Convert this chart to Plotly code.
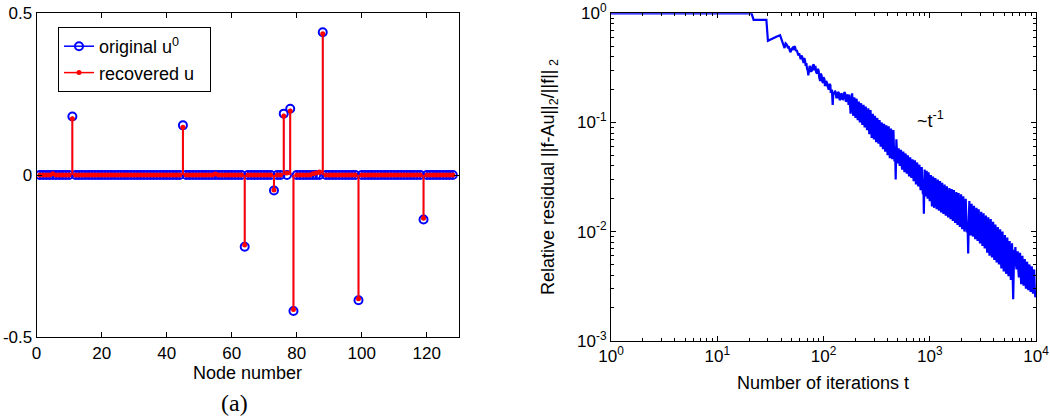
import plotly.graph_objects as go

# ---------------- data: panel (a) ----------------
node_count = 128
spike_nodes = [11, 45, 64, 73, 76, 78, 79, 88, 99, 119]
original_spikes = [0.180, 0.153, -0.221, -0.048, 0.189, 0.204, -0.419, 0.440, -0.386, -0.137]
recovered_spikes = [0.173, 0.147, -0.216, -0.046, 0.182, 0.197, -0.414, 0.435, -0.381, -0.133]
small_nodes = [5, 55, 77, 85, 86, 87]
small_values = [0.004, 0.003, 0.006, 0.004, 0.006, 0.009]

# ---------------- data: residual curve ----------------
iterations = [
    1, 21, 22, 29, 30, 33, 36, 39, 40, 41, 42, 43, 44, 45, 46, 47, 48, 49, 50,
    51, 52, 53, 54, 55, 56, 57, 58, 59, 60, 61, 62, 63, 64, 65, 66, 67, 68,
    69, 70, 71, 72, 73, 74, 75, 76, 77, 78, 79, 81, 82, 84, 85, 87, 88, 90,
    91, 93, 94, 96, 97, 99, 100, 102, 103, 105, 106, 108, 110, 112, 114, 116,
    117, 119, 120, 122, 124, 126, 128, 130, 132, 135, 137, 140, 142, 145, 147,
    150, 152, 155, 157, 160, 162, 165, 167, 170, 172, 175, 178, 180, 183, 186,
    188, 190, 193, 195, 198, 200, 203, 205, 208, 210, 213, 215, 218, 220, 223,
    226, 229, 232, 235, 238, 241, 244, 247, 250, 254, 257, 261, 264, 267, 270,
    274, 277, 281, 284, 288, 291, 295, 298, 302, 305, 309, 313, 317, 321, 325,
    329, 333, 337, 341, 345, 350, 354, 358, 363, 368, 372, 377, 381, 386, 391,
    396, 401, 406, 411, 416, 421, 427, 432, 438, 443, 449, 455, 461, 466, 472,
    478, 485, 491, 497, 503, 510, 516, 523, 530, 536, 543, 550, 557, 564, 571,
    578, 585, 593, 600, 608, 615, 623, 631, 639, 647, 655, 663, 672, 680, 689,
    697, 706, 715, 724, 733, 742, 751, 761, 770, 780, 790, 800, 810, 820, 830,
    841, 851, 862, 871, 880, 888, 895, 905, 915, 925, 935, 945, 955, 965, 975,
    987, 1000, 1012, 1025, 1037, 1050, 1062, 1075, 1088, 1100, 1115, 1130, 1145,
    1160, 1175, 1190, 1205, 1220, 1235, 1250, 1265, 1280, 1295, 1310, 1327, 1345,
    1362, 1380, 1397, 1415, 1432, 1450, 1470, 1490, 1510, 1530, 1550, 1570, 1590,
    1610, 1630, 1650, 1670, 1690, 1712, 1735, 1757, 1780, 1802, 1825, 1847, 1870,
    1895, 1920, 1945, 1970, 1995, 2020, 2045, 2070, 2095, 2120, 2150, 2180, 2210,
    2240, 2270, 2300, 2330, 2360, 2390, 2420, 2450, 2480, 2512, 2545, 2577, 2610,
    2645, 2680, 2715, 2750, 2785, 2820, 2855, 2890, 2930, 2970, 3010, 3050, 3090,
    3130, 3170, 3210, 3250, 3290, 3335, 3380, 3425, 3470, 3515, 3560, 3605, 3650,
    3700, 3750, 3800, 3850, 3900, 3950, 4000, 4050, 4100, 4150, 4205, 4260, 4315,
    4370, 4425, 4480, 4540, 4600, 4660, 4720, 4780, 4840, 4905, 4970, 5035, 5100,
    5165, 5230, 5300, 5370, 5440, 5510, 5580, 5650, 5725, 5800, 5875, 5950, 6025,
    6100, 6175, 6250, 6325, 6400, 6480, 6560, 6645, 6730, 6815, 6900, 6990, 7080,
    7170, 7260, 7355, 7450, 7545, 7640, 7740, 7840, 7940, 8040, 8145, 8250, 8355,
    8460, 8570, 8680, 8790, 8900, 9015, 9130, 9250, 9370, 9490, 9610, 9730, 9850,
    10000,
]
residual = [
    1.0, 1.0, 0.87, 0.87, 0.56, 0.59, 0.61, 0.63, 0.58, 0.55, 0.50, 0.48, 0.53, 0.52, 0.49, 0.50, 0.46, 0.44, 0.47,
    0.48, 0.46, 0.50, 0.49, 0.45, 0.46, 0.42, 0.41, 0.43, 0.39, 0.38, 0.41, 0.40, 0.37, 0.35, 0.39, 0.37, 0.33,
    0.35, 0.31, 0.30, 0.27, 0.31, 0.33, 0.32, 0.29, 0.30, 0.30, 0.33, 0.34, 0.30, 0.33, 0.29, 0.28, 0.31, 0.30,
    0.26, 0.24, 0.28, 0.27, 0.24, 0.23, 0.26, 0.25, 0.22, 0.22, 0.24, 0.23, 0.21, 0.20, 0.225, 0.22,
    0.19, 0.19, 0.20, 0.145, 0.19, 0.18, 0.195, 0.19, 0.17, 0.17, 0.19, 0.185, 0.16, 0.165, 0.185,
    0.18, 0.16, 0.17, 0.19, 0.185, 0.155, 0.16, 0.18, 0.175, 0.145, 0.18, 0.14, 0.12, 0.16, 0.185,
    0.15, 0.115, 0.14, 0.17, 0.13, 0.11, 0.15, 0.165, 0.12, 0.105, 0.14, 0.155, 0.115, 0.10, 0.13,
    0.15, 0.11, 0.095, 0.125, 0.145, 0.105, 0.09, 0.12, 0.14, 0.10, 0.085, 0.11, 0.135, 0.095, 0.078,
    0.105, 0.13, 0.09, 0.072, 0.10, 0.12, 0.085, 0.07, 0.095, 0.115, 0.08, 0.066, 0.09, 0.11, 0.078,
    0.064, 0.085, 0.105, 0.072, 0.06, 0.082, 0.10, 0.068, 0.057, 0.08, 0.097, 0.066, 0.054, 0.075, 0.094,
    0.062, 0.05, 0.072, 0.092, 0.06, 0.047, 0.068, 0.088, 0.058, 0.046, 0.065, 0.085, 0.055, 0.044, 0.06,
    0.03, 0.07, 0.05, 0.042, 0.052, 0.058, 0.044, 0.04, 0.05, 0.056, 0.042, 0.037, 0.047, 0.054, 0.04,
    0.035, 0.045, 0.052, 0.039, 0.034, 0.043, 0.05, 0.037, 0.032, 0.041, 0.048, 0.035, 0.031, 0.039, 0.046,
    0.034, 0.029, 0.038, 0.045, 0.032, 0.027, 0.036, 0.043, 0.03, 0.026, 0.034, 0.041, 0.029, 0.024, 0.032,
    0.039, 0.027, 0.022, 0.03, 0.0146, 0.025, 0.037, 0.026, 0.021, 0.028, 0.036, 0.024, 0.02, 0.027, 0.035,
    0.024, 0.019, 0.026, 0.033, 0.022, 0.017, 0.025, 0.032, 0.021, 0.0165, 0.024, 0.031, 0.02,
    0.016, 0.023, 0.03, 0.02, 0.0155, 0.022, 0.029, 0.019, 0.015, 0.021, 0.028, 0.018, 0.0145,
    0.02, 0.027, 0.018, 0.014, 0.019, 0.026, 0.017, 0.0135, 0.018, 0.025, 0.016, 0.013, 0.017,
    0.0245, 0.016, 0.0125, 0.017, 0.024, 0.015, 0.012, 0.016, 0.023, 0.015, 0.0115, 0.015, 0.0225,
    0.014, 0.011, 0.015, 0.022, 0.014, 0.0105, 0.014, 0.021, 0.013, 0.010, 0.013, 0.020, 0.013,
    0.0098, 0.012, 0.0063, 0.013, 0.019, 0.012, 0.0092, 0.012, 0.018, 0.012, 0.009, 0.011, 0.0172,
    0.011, 0.0085, 0.011, 0.0165, 0.0105, 0.0082, 0.0105, 0.016, 0.010, 0.0078, 0.010, 0.0152, 0.0098,
    0.0074, 0.0096, 0.0147, 0.0094, 0.007, 0.009, 0.014, 0.0088, 0.0064, 0.0085, 0.0135, 0.0082, 0.006,
    0.008, 0.013, 0.0078, 0.0058, 0.0076, 0.0123, 0.0074, 0.0055, 0.0072, 0.0116, 0.007, 0.0052, 0.0068,
    0.011, 0.0066, 0.005, 0.0064, 0.0105, 0.0062, 0.0046, 0.006, 0.010, 0.0058, 0.0043, 0.0056, 0.0093,
    0.0055, 0.0041, 0.0053, 0.0088, 0.005, 0.0039, 0.0048, 0.0082, 0.0047, 0.0036, 0.0045, 0.0078, 0.0042,
    0.0024, 0.0045, 0.0068, 0.0058, 0.0072, 0.005, 0.0045, 0.0055, 0.0066, 0.0045, 0.0038, 0.0048, 0.0064,
    0.0042, 0.0033, 0.0045, 0.006, 0.004, 0.0032, 0.0042, 0.0056, 0.0037, 0.003, 0.0039, 0.0053, 0.0035,
    0.0029, 0.0037, 0.005, 0.0033, 0.0028, 0.0035, 0.0048, 0.0032, 0.0027, 0.0034, 0.0045, 0.003, 0.0025,
    0.0028,
]

x_ticks_a = [0, 20, 40, 60, 80, 100, 120]
y_ticks_a = [-0.5, 0, 0.5]
y_ticklabels_a = ["-0.5", "0", "0.5"]
x_ticks_b = [1, 10, 100, 1000, 10000]
x_ticklabels_b = ["10<sup>0</sup>", "10<sup>1</sup>", "10<sup>2</sup>", "10<sup>3</sup>", "10<sup>4</sup>"]
y_ticks_b = [0.001, 0.01, 0.1, 1]
y_ticklabels_b = ["10<sup>-3</sup>", "10<sup>-2</sup>", "10<sup>-1</sup>", "10<sup>0</sup>"]

# ---------------- build arrays ----------------
nodes = list(range(1, node_count + 1))
u0 = [0.0] * node_count
u_rec = [0.0] * node_count
for n, v in zip(spike_nodes, original_spikes):
    u0[n - 1] = v
for n, v in zip(spike_nodes, recovered_spikes):
    u_rec[n - 1] = v
for n, v in zip(small_nodes, small_values):
    u_rec[n - 1] = v


def stem_segments(xs, ys):
    sx, sy = [], []
    for x, y in zip(xs, ys):
        if y != 0:
            sx += [x, x, None]
            sy += [0, y, None]
    return sx, sy


bx, by = stem_segments(nodes, u0)
rx, ry = stem_segments(nodes, u_rec)

minor_x = [m * 10 ** e for e in range(0, 4) for m in range(2, 10)]
minor_y = [m * 10.0 ** e for e in range(-3, 0) for m in range(2, 10)]

W, H = 1050, 416


def fx(px):
    return px / W


def fy(py):
    return 1 - py / H


FONT = "Liberation Sans, Arial, sans-serif"
BLUE = "#0000ff"
RED = "#ff0000"

fig = go.Figure()
fig.add_trace(go.Scatter(x=bx, y=by, mode="lines", line=dict(color=BLUE, width=1.2),
                         showlegend=False, hoverinfo="skip", xaxis="x", yaxis="y"))
fig.add_trace(go.Scatter(x=nodes, y=u0, mode="markers", showlegend=False,
                         marker=dict(symbol="circle-open", size=8, color=BLUE, line=dict(width=2, color=BLUE)),
                         xaxis="x", yaxis="y"))
fig.add_trace(go.Scatter(x=rx, y=ry, mode="lines", line=dict(color=RED, width=2),
                         showlegend=False, hoverinfo="skip", xaxis="x", yaxis="y"))
fig.add_trace(go.Scatter(x=nodes, y=u_rec, mode="markers", showlegend=False,
                         marker=dict(symbol="circle", size=5, color=RED),
                         xaxis="x", yaxis="y"))
fig.add_trace(go.Scatter(x=[None], y=[None], mode="lines+markers", name="original u<sup>0</sup>",
                         line=dict(color=BLUE, width=1.5),
                         marker=dict(symbol="circle-open", size=8, color=BLUE, line=dict(width=2, color=BLUE)),
                         xaxis="x", yaxis="y"))
fig.add_trace(go.Scatter(x=[None], y=[None], mode="lines+markers", name="recovered u&nbsp;&nbsp;",
                         line=dict(color=RED, width=1.5), marker=dict(symbol="circle", size=5, color=RED),
                         xaxis="x", yaxis="y"))
fig.add_trace(go.Scatter(x=iterations, y=residual, mode="lines", showlegend=False,
                         line=dict(color=BLUE, width=2.2), cliponaxis=False,
                         xaxis="x2", yaxis="y2"))

common = dict(showline=True, linecolor="black", linewidth=1, mirror="ticks",
              ticks="inside", ticklen=5, tickcolor="black", tickwidth=1,
              showgrid=False, zeroline=False, automargin=False, ticklabeloverflow="allow",
              tickfont=dict(family=FONT, size=17, color="black"))

fig.update_layout(
    width=W, height=H,
    margin=dict(l=0, r=0, t=0, b=0, pad=0, autoexpand=False),
    paper_bgcolor="white", plot_bgcolor="white",
    font=dict(family=FONT, size=18, color="black"),
    xaxis=dict(domain=[fx(36.6), fx(459.3)], range=[0, 130], tickmode="array",
               tickvals=x_ticks_a, anchor="y", **common),
    yaxis=dict(domain=[fy(337.3), fy(12.7)], range=[-0.5, 0.5], tickmode="array",
               tickvals=y_ticks_a, ticktext=y_ticklabels_a, anchor="x", **common),
    xaxis2=dict(domain=[fx(611), fx(1036)], type="log", range=[0, 4], tickmode="array",
                tickvals=x_ticks_b, ticktext=x_ticklabels_b, anchor="y2",
                minor=dict(ticks="inside", ticklen=3, tickcolor="black", tickmode="array",
                           tickvals=minor_x, showgrid=False),
                **common),
    yaxis2=dict(domain=[fy(340.7), fy(13.3)], type="log", range=[-3, 0], tickmode="array",
                tickvals=y_ticks_b, ticktext=y_ticklabels_b, anchor="x2",
                minor=dict(ticks="inside", ticklen=3, tickcolor="black", tickmode="array",
                           tickvals=minor_y, showgrid=False),
                **common),
    legend=dict(x=fx(58), y=fy(27), xanchor="left", yanchor="top",
                bordercolor="black", borderwidth=1, bgcolor="white",
                font=dict(family=FONT, size=18, color="black")),
    showlegend=True,
)

ann = dict(xref="paper", yref="paper", showarrow=False, xanchor="center", yanchor="middle")
fig.add_annotation(text="Node number", x=fx(247), y=fy(373), font=dict(family=FONT, size=18), **ann)
fig.add_annotation(text="(a)", x=fx(234), y=fy(403),
                   font=dict(family="Liberation Serif, Times New Roman, serif", size=24), **ann)
fig.add_annotation(text="Number of iterations t", x=fx(823), y=fy(383), font=dict(family=FONT, size=18), **ann)
fig.add_annotation(text="Relative residual ||f-Au||<sub>2</sub>/||f||<sub> 2</sub>",
                   x=fx(550), y=fy(177), textangle=-90, font=dict(family=FONT, size=18), **ann)
fig.add_annotation(text="~t<sup>-1</sup>", x=fx(930), y=fy(120), font=dict(family=FONT, size=18), **ann)

fig.write_html("out.html", config={"displayModeBar": False},
               post_script="document.body.style.margin='0px';")
